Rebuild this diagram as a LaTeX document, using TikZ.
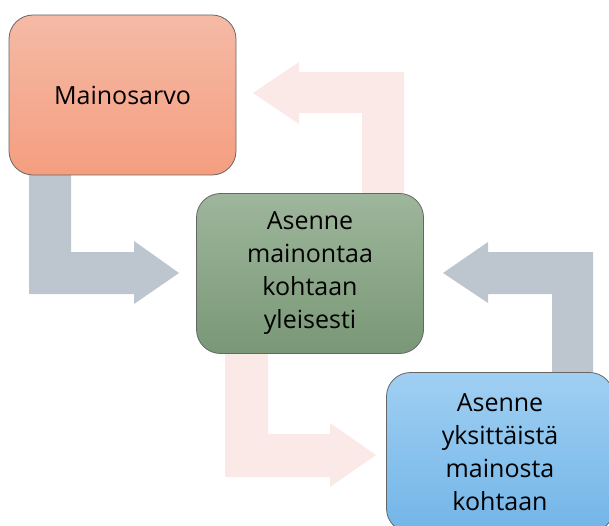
\documentclass[tikz,border=0pt]{standalone}
\usepackage{fontspec}
\setmainfont{Open Sans}
\begin{document}
\begin{tikzpicture}[x=1pt,y=-1pt,
  boxnode/.style={draw=black!60, line width=0.8pt, rounded corners=24pt,
    minimum width=227pt, minimum height=160pt, align=center,
    font=\fontsize{25}{33}\selectfont, text=black},
  grayarrow/.style={fill=arrgray, draw=none},
  pinkarrow/.style={fill=arrpink, draw=none}]
\definecolor{arrgray}{RGB}{189,197,207}
\definecolor{arrpink}{RGB}{250,233,230}
\definecolor{redtop}{RGB}{245,186,166}
\definecolor{redbot}{RGB}{245,158,128}
\definecolor{grntop}{RGB}{158,182,156}
\definecolor{grnbot}{RGB}{121,152,118}
\definecolor{blutop}{RGB}{160,207,242}
\definecolor{blubot}{RGB}{114,181,232}
\useasboundingbox (0,0) rectangle (609,526);
\clip (0,0) rectangle (609,526);
% arrows (behind boxes)
% pink: center top -> Mainosarvo
\fill[pinkarrow] (362,198) -- (362,113) -- (299,113) -- (299,124) -- (253,93) -- (299,62) -- (299,72) -- (404,72) -- (404,198) -- cycle;
% gray: Mainosarvo -> center
\fill[grayarrow] (29,170) -- (29,294) -- (134,294) -- (134,304) -- (179,273) -- (134,241) -- (134,252) -- (71,252) -- (71,170) -- cycle;
% gray: blue -> center
\fill[grayarrow] (593,378) -- (593,252) -- (488,252) -- (488,242) -- (443,273) -- (488,303) -- (488,294) -- (552,294) -- (552,378) -- cycle;
% pink: center -> blue
\fill[pinkarrow] (225,348) -- (225,477) -- (330,477) -- (330,487) -- (376,455) -- (330,423) -- (330,434) -- (268,434) -- (268,348) -- cycle;
% boxes
\node[boxnode, top color=redtop, bottom color=redbot] (m) at (122.5,95) {Mainosarvo};
\node[boxnode, top color=grntop, bottom color=grnbot] (a) at (310,273.5) {Asenne\\mainontaa\\kohtaan\\yleisesti};
\node[boxnode, top color=blutop, bottom color=blubot] (b) at (500,452.5) {Asenne\\yksittäistä\\mainosta\\kohtaan};
\end{tikzpicture}
\end{document}
